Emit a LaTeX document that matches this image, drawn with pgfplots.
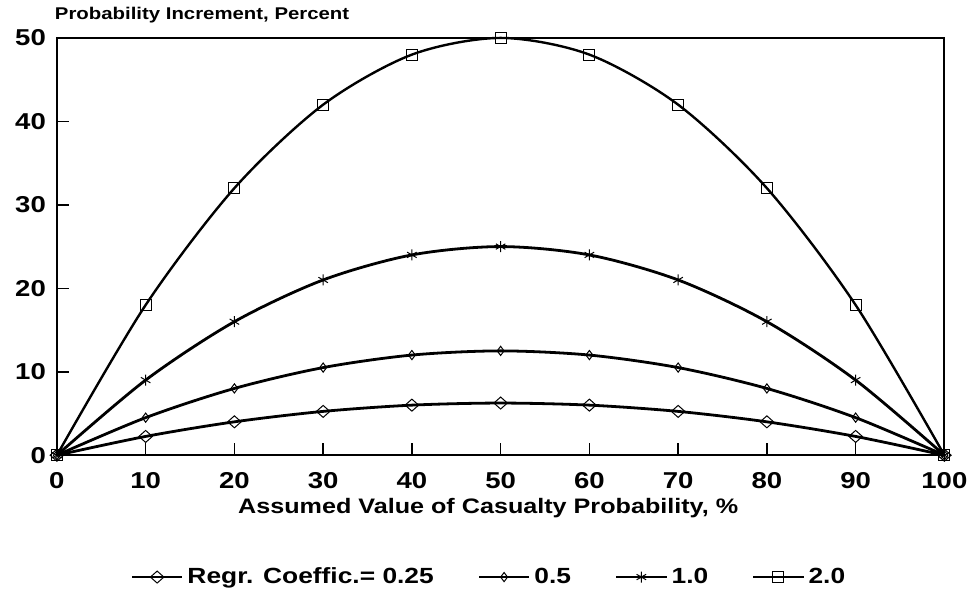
\documentclass[border=0pt]{standalone}
\usepackage{fontspec}
\setmainfont{Liberation Sans}[FakeStretch=1.2]
\usepackage{pgfplots}
\pgfplotsset{compat=1.18}
\begin{document}
\begin{tikzpicture}
\begin{axis}[name=ax,
  scale only axis, width=444.5pt, height=209pt,
  xmin=0, xmax=100, ymin=0, ymax=50,
  xtick={0,10,...,100}, ytick={0,10,...,50},
  tick align=inside, tick pos=left, major tick length=6pt,
  axis line style={line width=0.9pt},
  every tick/.style={black, line width=0.8pt},
  ticklabel style={font=\fontsize{11.5}{13}\selectfont\bfseries},
  xticklabel style={yshift=-5pt},
  yticklabel style={xshift=-2pt},
  /pgf/number format/assume math mode=true,
  clip=false,
  xlabel={Assumed Value of Casualty Probability, \%},
  xlabel style={font=\fontsize{10.5}{12}\selectfont\bfseries, at={(axis description cs:0.486,0)}, anchor=base, yshift=-29pt},
  legend columns=4,
  legend style={at={(0.488,-0.292)}, anchor=center, draw=none, fill=none,
    font=\fontsize{11}{13}\selectfont\bfseries,
    /tikz/every even column/.append style={column sep=20pt}},
  legend image code/.code={\draw[mark repeat=2,mark phase=2] plot coordinates {(0pt,0pt)(12.5pt,0pt)(25pt,0pt)};},
]
\addplot[black, line width=1.4pt, smooth, mark=diamond, mark size=3pt, mark options={solid, line width=0.5pt, fill=none, xscale=1.5}] coordinates {(0,0)(10,2.25)(20,4)(30,5.25)(40,6)(50,6.25)(60,6)(70,5.25)(80,4)(90,2.25)(100,0)};
\addlegendentry{Regr. Coeffic.= 0.25}
\addplot[black, line width=1.4pt, smooth, mark=diamond, mark size=2.3pt, mark options={solid, line width=0.5pt, fill=none}] coordinates {(0,0)(10,4.5)(20,8)(30,10.5)(40,12)(50,12.5)(60,12)(70,10.5)(80,8)(90,4.5)(100,0)};
\addlegendentry{0.5}
\addplot[black, line width=1.4pt, smooth, mark=asterisk, mark size=2.75pt, mark options={solid, line width=0.5pt, fill=none}] coordinates {(0,0)(10,9)(20,16)(30,21)(40,24)(50,25)(60,24)(70,21)(80,16)(90,9)(100,0)};
\addlegendentry{1.0}
\addplot[black, line width=1.2pt, smooth, mark=square, mark size=2.75pt, mark options={solid, line width=0.5pt, fill=none}] coordinates {(0,0)(10,18)(20,32)(30,42)(40,48)(50,50)(60,48)(70,42)(80,32)(90,18)(100,0)};
\addlegendentry{2.0}
\end{axis}
\node[anchor=base west, font=\fontsize{8.5}{10}\selectfont\bfseries] at ([xshift=-4.5pt,yshift=9pt]ax.north west) {Probability Increment, Percent};
\path (ax.south west) ++(-28.5pt,-71.5pt) rectangle ++(487pt,299.5pt);
\end{tikzpicture}
\end{document}
